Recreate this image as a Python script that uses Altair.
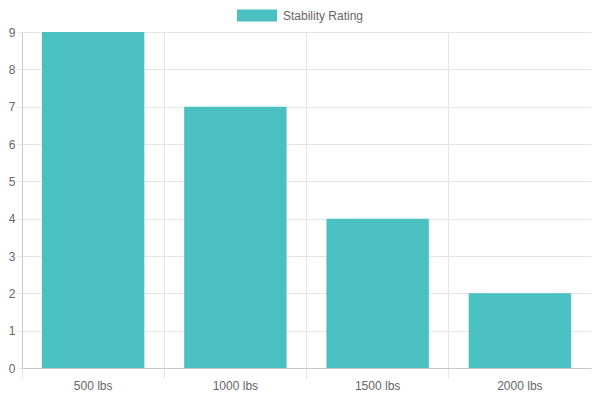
import altair as alt
import pandas as pd

categories = ["500 lbs", "1000 lbs", "1500 lbs", "2000 lbs"]
ratings = [9, 7, 4, 2]
series_name = "Stability Rating"
y_ticks = [0, 1, 2, 3, 4, 5, 6, 7, 8, 9]

df = pd.DataFrame({"load": categories, "rating": ratings, "series": [series_name] * len(categories)})

W, H = 569, 336
GRID = "#e5e5e5"
AXIS = "#c8c8c8"
TXT = "#666666"

chart = alt.Chart(df).mark_bar(width={"band": 0.72}).encode(
    x=alt.X(
        "load:N", sort=categories, title=None,
        scale=alt.Scale(paddingInner=0, paddingOuter=0),
        axis=alt.Axis(
            bandPosition=0, tickExtra=True,
            labelAngle=0, grid=True, gridColor=GRID, tickColor=GRID, tickSize=10,
            labelPadding=2, domainColor=AXIS, labelColor=TXT, labelFontSize=12,
        ),
    ),
    y=alt.Y(
        "rating:Q", title=None,
        scale=alt.Scale(domain=[0, 9], nice=False),
        axis=alt.Axis(
            values=y_ticks, grid=True, gridColor=GRID, tickColor=GRID, tickSize=5,
            labelPadding=2, domainColor=AXIS, labelColor=TXT, labelFontSize=12,
        ),
    ),
    color=alt.Color(
        "series:N", scale=alt.Scale(range=["#4BC0C0"]),
        legend=alt.Legend(
            orient="none", legendX=225, legendY=-26.5, title=None,
            symbolType="M-2,-0.6H2V0.6H-2Z", symbolSize=400, symbolStrokeWidth=0,
            symbolOpacity=1, labelFontSize=12, labelColor=TXT, labelOffset=16,
            padding=0, direction="horizontal",
        ),
    ),
).properties(
    width=W, height=H,
    autosize=alt.AutoSizeParams(type="none"),
    padding={"left": 14, "top": 24, "right": 1, "bottom": 24},
).configure(font="Liberation Sans").configure_view(stroke=None)

chart.save("out.html", embed_options={"renderer": "svg", "actions": False})
